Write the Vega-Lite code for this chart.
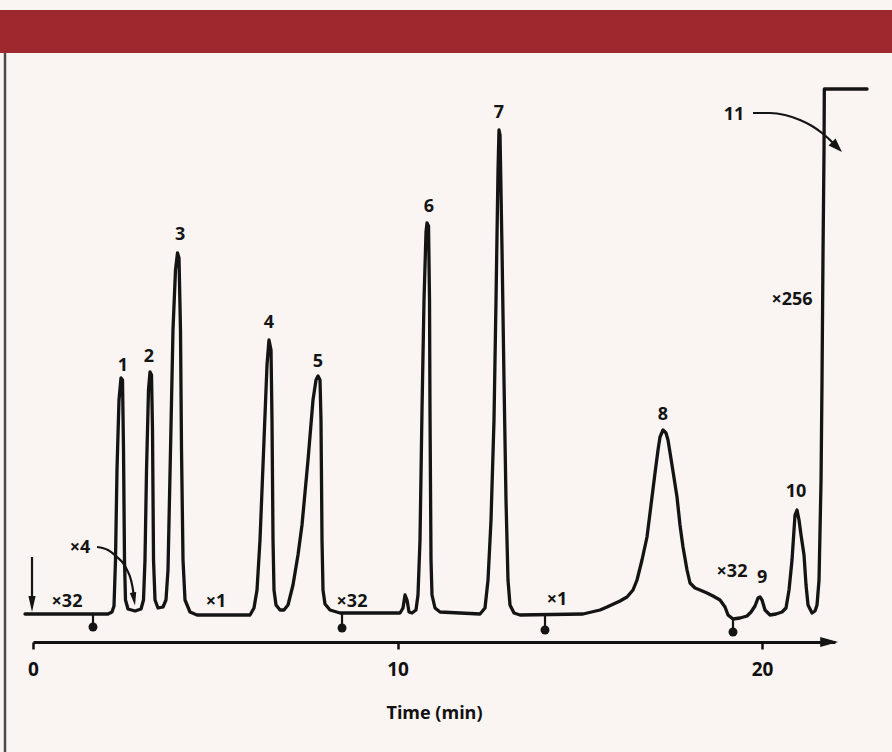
{
  "$schema": "https://vega.github.io/schema/vega-lite/v6.json",
  "width": 802,
  "height": 556,
  "autosize": "none",
  "padding": {"left": 33, "top": 86, "right": 57, "bottom": 110},
  "background": "#faf5f3",
  "config": {"view": {"stroke": null}},
  "datasets": {
    "band": [{"t": -0.905, "t2": 23.6, "y": 605, "y2": 562}],
    "frame": [{"t": -0.768, "y": 562, "y2": -140}],
    "trace": [
      {"t": -0.219, "y": 1}, {"t": 2.057, "y": 1}, {"t": 2.167, "y": 3}, {"t": 2.222, "y": 9}, {"t": 2.263, "y": 55},
      {"t": 2.304, "y": 145}, {"t": 2.359, "y": 215}, {"t": 2.414, "y": 237}, {"t": 2.455, "y": 235}, {"t": 2.483, "y": 165},
      {"t": 2.51, "y": 55}, {"t": 2.537, "y": 15}, {"t": 2.606, "y": 6}, {"t": 2.798, "y": 4}, {"t": 2.963, "y": 6},
      {"t": 3.031, "y": 15}, {"t": 3.072, "y": 55}, {"t": 3.114, "y": 145}, {"t": 3.168, "y": 225}, {"t": 3.21, "y": 243},
      {"t": 3.251, "y": 240}, {"t": 3.278, "y": 185}, {"t": 3.306, "y": 55}, {"t": 3.347, "y": 15}, {"t": 3.429, "y": 7},
      {"t": 3.566, "y": 8}, {"t": 3.648, "y": 15}, {"t": 3.703, "y": 45}, {"t": 3.772, "y": 165}, {"t": 3.84, "y": 285},
      {"t": 3.909, "y": 345}, {"t": 3.964, "y": 362}, {"t": 4.005, "y": 357}, {"t": 4.046, "y": 285}, {"t": 4.074, "y": 165},
      {"t": 4.115, "y": 55}, {"t": 4.17, "y": 15}, {"t": 4.307, "y": 3}, {"t": 4.499, "y": 0}, {"t": 5.953, "y": 0},
      {"t": 6.062, "y": 7}, {"t": 6.145, "y": 25}, {"t": 6.227, "y": 75}, {"t": 6.337, "y": 175}, {"t": 6.419, "y": 250},
      {"t": 6.474, "y": 275}, {"t": 6.529, "y": 265}, {"t": 6.556, "y": 195}, {"t": 6.584, "y": 75}, {"t": 6.611, "y": 25},
      {"t": 6.666, "y": 10}, {"t": 6.776, "y": 5}, {"t": 6.885, "y": 5}, {"t": 6.995, "y": 10}, {"t": 7.132, "y": 30},
      {"t": 7.269, "y": 60}, {"t": 7.379, "y": 90}, {"t": 7.544, "y": 155}, {"t": 7.681, "y": 215}, {"t": 7.763, "y": 235},
      {"t": 7.818, "y": 239}, {"t": 7.873, "y": 235}, {"t": 7.9, "y": 195}, {"t": 7.928, "y": 75}, {"t": 7.955, "y": 25},
      {"t": 8.01, "y": 11}, {"t": 8.147, "y": 5}, {"t": 8.422, "y": 2}, {"t": 10.068, "y": 2}, {"t": 10.15, "y": 7},
      {"t": 10.205, "y": 20}, {"t": 10.26, "y": 15}, {"t": 10.314, "y": 3}, {"t": 10.397, "y": 2}, {"t": 10.506, "y": 5},
      {"t": 10.561, "y": 20}, {"t": 10.616, "y": 75}, {"t": 10.671, "y": 205}, {"t": 10.726, "y": 315}, {"t": 10.781, "y": 383},
      {"t": 10.808, "y": 392}, {"t": 10.85, "y": 389}, {"t": 10.877, "y": 315}, {"t": 10.89, "y": 205}, {"t": 10.918, "y": 55},
      {"t": 10.945, "y": 20}, {"t": 11.028, "y": 7}, {"t": 11.165, "y": 3}, {"t": 12.262, "y": 1}, {"t": 12.399, "y": 7},
      {"t": 12.482, "y": 35}, {"t": 12.564, "y": 95}, {"t": 12.646, "y": 195}, {"t": 12.701, "y": 315}, {"t": 12.756, "y": 445},
      {"t": 12.783, "y": 485}, {"t": 12.811, "y": 480}, {"t": 12.866, "y": 365}, {"t": 12.92, "y": 235}, {"t": 12.975, "y": 115},
      {"t": 13.03, "y": 35}, {"t": 13.085, "y": 10}, {"t": 13.195, "y": 2}, {"t": 13.359, "y": 0}, {"t": 15.088, "y": 1},
      {"t": 15.554, "y": 5}, {"t": 15.746, "y": 8}, {"t": 16.103, "y": 14}, {"t": 16.295, "y": 18}, {"t": 16.459, "y": 25},
      {"t": 16.569, "y": 35}, {"t": 16.706, "y": 55}, {"t": 16.843, "y": 78}, {"t": 16.953, "y": 110}, {"t": 17.063, "y": 142},
      {"t": 17.145, "y": 165}, {"t": 17.2, "y": 178}, {"t": 17.282, "y": 185}, {"t": 17.364, "y": 182}, {"t": 17.419, "y": 175},
      {"t": 17.529, "y": 150}, {"t": 17.666, "y": 118}, {"t": 17.748, "y": 90}, {"t": 17.831, "y": 68}, {"t": 17.941, "y": 45},
      {"t": 18.023, "y": 32}, {"t": 18.16, "y": 27}, {"t": 18.297, "y": 25}, {"t": 18.489, "y": 22}, {"t": 18.654, "y": 19},
      {"t": 18.846, "y": 15}, {"t": 18.983, "y": 8}, {"t": 19.065, "y": 0}, {"t": 19.202, "y": -4}, {"t": 19.395, "y": -3},
      {"t": 19.587, "y": -1}, {"t": 19.697, "y": 3}, {"t": 19.806, "y": 9}, {"t": 19.888, "y": 17}, {"t": 19.943, "y": 18},
      {"t": 19.998, "y": 15}, {"t": 20.08, "y": 5}, {"t": 20.217, "y": 0}, {"t": 20.382, "y": 1}, {"t": 20.547, "y": 3},
      {"t": 20.656, "y": 7}, {"t": 20.739, "y": 25}, {"t": 20.821, "y": 55}, {"t": 20.903, "y": 100}, {"t": 20.958, "y": 105},
      {"t": 21.013, "y": 95}, {"t": 21.068, "y": 80}, {"t": 21.15, "y": 60}, {"t": 21.205, "y": 30}, {"t": 21.26, "y": 10},
      {"t": 21.37, "y": 2}, {"t": 21.452, "y": 4}, {"t": 21.507, "y": 10}, {"t": 21.562, "y": 35}, {"t": 21.617, "y": 135},
      {"t": 21.644, "y": 235}, {"t": 21.672, "y": 365}, {"t": 21.699, "y": 465}, {"t": 21.707, "y": 526}, {"t": 22.878, "y": 526}
    ],
    "arrow4": [
      {"t": 1.756, "y": 68}, {"t": 2.057, "y": 65}, {"t": 2.304, "y": 58}, {"t": 2.469, "y": 52},
      {"t": 2.579, "y": 45}, {"t": 2.688, "y": 35}, {"t": 2.743, "y": 25}, {"t": 2.771, "y": 17}
    ],
    "arrow11": [
      {"t": 19.751, "y": 502}, {"t": 20.217, "y": 502}, {"t": 20.629, "y": 500}, {"t": 21.04, "y": 495},
      {"t": 21.369, "y": 489}, {"t": 21.644, "y": 482}, {"t": 21.863, "y": 475}, {"t": 22.001, "y": 470}
    ],
    "inject": [{"t": -0.027, "y": 58, "y2": 14}],
    "dots": [
      {"t": 1.646, "y": -12, "y0": 1},
      {"t": 8.477, "y": -13, "y0": 2},
      {"t": 14.045, "y": -15, "y0": 0},
      {"t": 19.202, "y": -17, "y0": -4}
    ],
    "labels": [
      {"t": 2.469, "y": 249, "text": "1"},
      {"t": 3.182, "y": 258, "text": "2"},
      {"t": 4.033, "y": 380, "text": "3"},
      {"t": 6.474, "y": 292, "text": "4"},
      {"t": 7.818, "y": 253, "text": "5"},
      {"t": 10.863, "y": 408, "text": "6"},
      {"t": 12.783, "y": 502, "text": "7"},
      {"t": 17.282, "y": 200, "text": "8"},
      {"t": 19.998, "y": 37, "text": "9"},
      {"t": 20.93, "y": 123, "text": "10"},
      {"t": 19.23, "y": 500, "text": "11"},
      {"t": 0.933, "y": 13, "text": "×32"},
      {"t": 1.289, "y": 67, "text": "×4"},
      {"t": 5.02, "y": 13, "text": "×1"},
      {"t": 8.751, "y": 13, "text": "×32"},
      {"t": 14.374, "y": 15, "text": "×1"},
      {"t": 19.175, "y": 43, "text": "×32"},
      {"t": 20.821, "y": 315, "text": "×256"}
    ]
  },
  "encoding": {
    "x": {
      "field": "t", "type": "quantitative", "title": "Time (min)",
      "scale": {"domain": [0, 22], "nice": false, "zero": false},
      "axis": {
        "values": [0, 10, 20], "grid": false,
        "domainColor": "#111111", "domainWidth": 3, "domainCap": "butt",
        "tickColor": "#111111", "tickWidth": 2.5, "tickSize": 7,
        "labelFont": "Open Sans", "labelFontSize": 19, "labelFontWeight": "bold", "labelColor": "#111111",
        "labelPadding": 11, "labelFlush": false,
        "titleFont": "Open Sans", "titleFontSize": 18, "titleFontWeight": "bold", "titleColor": "#111111",
        "titlePadding": 25
      }
    },
    "y": {
      "field": "y", "type": "quantitative", "axis": null,
      "scale": {"domain": [-27, 529], "nice": false, "zero": false}
    }
  },
  "layer": [
    {
      "data": {"name": "band"},
      "mark": {"type": "rect", "color": "#9d282e"},
      "encoding": {"x2": {"field": "t2"}, "y2": {"field": "y2"}}
    },
    {
      "data": {"name": "frame"},
      "mark": {"type": "rule", "color": "#4a4a4a", "strokeWidth": 2.5},
      "encoding": {"y2": {"field": "y2"}}
    },
    {
      "data": {"name": "trace"},
      "mark": {"type": "line", "color": "#141414", "strokeWidth": 3.3, "strokeJoin": "round", "strokeCap": "round"},
      "encoding": {}
    },
    {
      "data": {"name": "arrow4"},
      "mark": {"type": "line", "color": "#141414", "strokeWidth": 2.2, "interpolate": "monotone"},
      "encoding": {}
    },
    {
      "data": {"name": "arrow11"},
      "mark": {"type": "line", "color": "#141414", "strokeWidth": 2.2, "interpolate": "monotone"},
      "encoding": {}
    },
    {
      "data": {"name": "inject"},
      "mark": {"type": "rule", "color": "#141414", "strokeWidth": 2.2},
      "encoding": {"y2": {"field": "y2"}}
    },
    {
      "data": {"values": [{"t": -0.027, "y": 11}]},
      "mark": {"type": "point", "filled": true, "color": "#141414", "opacity": 1, "shape": "M-0.45,-1L0.45,-1L0,1Z", "size": 256}
    },
    {
      "data": {"values": [{"t": 2.771, "y": 16}]},
      "mark": {"type": "point", "filled": true, "color": "#141414", "opacity": 1, "shape": "M-0.5,-1L0.5,-1L0,1Z", "size": 169, "angle": -9}
    },
    {
      "data": {"values": [{"t": 22.055, "y": 468}]},
      "mark": {"type": "point", "filled": true, "color": "#141414", "opacity": 1, "shape": "M-0.7,-1L0.7,-1L0,1Z", "size": 196, "angle": -45}
    },
    {
      "data": {"values": [{"t": 21.84, "y": -27}]},
      "mark": {"type": "point", "filled": true, "color": "#141414", "opacity": 1, "shape": "M-0.55,-1L0.55,-1L0,1Z", "size": 324, "angle": -90}
    },
    {
      "data": {"name": "dots"},
      "mark": {"type": "rule", "color": "#141414", "strokeWidth": 2.2},
      "encoding": {"y2": {"field": "y0"}}
    },
    {
      "data": {"name": "dots"},
      "mark": {"type": "point", "shape": "circle", "filled": true, "color": "#141414", "opacity": 1, "size": 80}
    },
    {
      "data": {"name": "labels"},
      "mark": {"type": "text", "font": "Open Sans", "fontSize": 18, "fontWeight": "bold", "color": "#141414", "align": "center", "baseline": "middle"},
      "encoding": {"text": {"field": "text"}}
    }
  ]
}
